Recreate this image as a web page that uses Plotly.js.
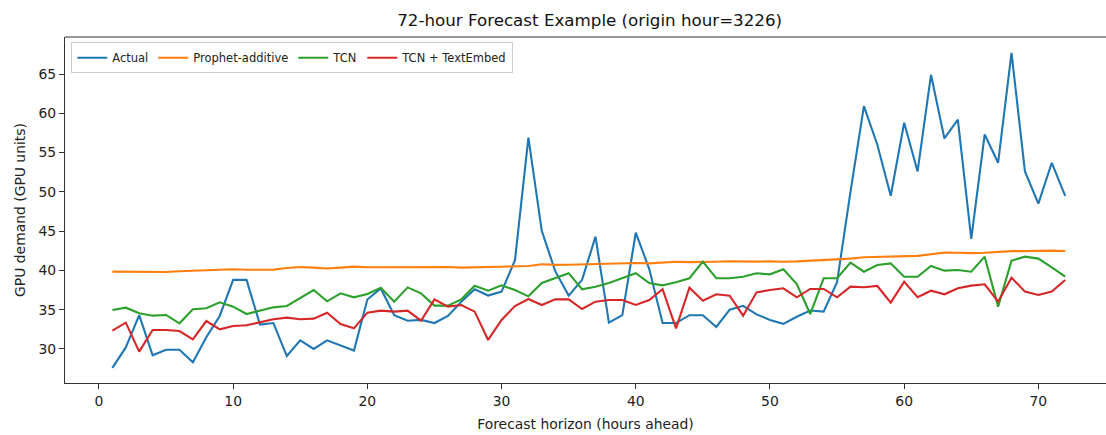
<!DOCTYPE html>
<html>
<head>
<meta charset="utf-8">
<script src="https://cdn.plot.ly/plotly-3.0.1.min.js"></script>
<style>
html,body{margin:0;padding:0;background:#fff;}
#chart{width:1106px;height:435px;}
</style>
</head>
<body>
<div id="chart"></div>
<script>
// Forecast horizon (hours ahead)
const hours = Array.from({length: 72}, (_, i) => i + 1);

const actual = [
  27.6, 30.2, 34.3, 29.2, 29.9, 29.9, 28.3, 31.5, 34.2, 38.8,
  38.8, 33.1, 33.3, 29.1, 31.1, 30.0, 31.1, 30.5, 29.8, 36.3,
  37.7, 34.3, 33.6, 33.7, 33.3, 34.2, 36.0, 37.6, 36.8, 37.3,
  41.3, 56.9, 45.0, 39.9, 36.8, 38.8, 44.3, 33.35, 34.3, 44.8,
  40.2, 33.3, 33.3, 34.3, 34.3, 32.8, 35.0, 35.5, 34.4, 33.7,
  33.2, 34.1, 34.9, 34.75, 38.5, 50.0, 60.9, 56.0, 49.5, 58.8,
  52.6, 64.9, 56.8, 59.2, 44.0, 57.3, 53.7, 67.7, 52.6, 48.5,
  53.7, 49.5
];

const prophetAdditive = [
  39.84, 39.84, 39.76, 39.78, 39.80, 39.90, 39.95, 39.97, 40.10, 40.14,
  40.08, 40.05, 40.10, 40.30, 40.43, 40.35, 40.25, 40.36, 40.48, 40.40,
  40.40, 40.46, 40.46, 40.40, 40.43, 40.43, 40.35, 40.40, 40.43, 40.48,
  40.56, 40.56, 40.78, 40.70, 40.72, 40.78, 40.75, 40.87, 40.95, 40.95,
  40.90, 41.00, 41.10, 41.05, 41.05, 41.10, 41.16, 41.10, 41.12, 41.15,
  41.10, 41.15, 41.24, 41.30, 41.40, 41.50, 41.67, 41.70, 41.70, 41.75,
  41.85, 42.05, 42.26, 42.25, 42.20, 42.25, 42.39, 42.45, 42.45, 42.50,
  42.52, 42.47
];

const tcn = [
  34.96, 35.26, 34.54, 34.24, 34.33, 33.27, 35.05, 35.18, 35.94, 35.39,
  34.45, 34.88, 35.30, 35.47, 36.50, 37.50, 36.07, 37.08, 36.58, 37.00,
  37.80, 36.02, 37.84, 37.08, 35.52, 35.52, 36.32, 38.06, 37.42, 38.10,
  37.50, 36.70, 38.40, 39.00, 39.65, 37.60, 37.93, 38.40, 39.00, 39.65,
  38.40, 38.10, 38.50, 39.00, 41.12, 39.00, 39.00, 39.20, 39.63, 39.50,
  40.14, 38.27, 34.45, 39.00, 39.00, 41.00, 39.84, 40.69, 40.90, 39.20,
  39.20, 40.56, 39.97, 40.06, 39.84, 41.75, 35.39, 41.24, 41.75, 41.50,
  40.40, 39.20
];

const tcnTextEmbed = [
  32.33, 33.35, 29.66, 32.42, 32.42, 32.29, 31.23, 33.56, 32.50, 32.93,
  33.01, 33.35, 33.78, 33.99, 33.78, 33.86, 34.62, 33.18, 32.63, 34.62,
  34.88, 34.75, 34.88, 33.60, 36.32, 35.39, 35.60, 34.75, 31.15, 33.69,
  35.47, 36.36, 35.60, 36.32, 36.32, 35.09, 36.02, 36.24, 36.24, 35.60,
  36.24, 37.60, 32.63, 37.80, 36.15, 36.96, 36.79, 34.24, 37.21, 37.50,
  37.72, 36.58, 37.64, 37.64, 36.58, 37.93, 37.85, 38.02, 35.90, 38.57,
  36.58, 37.42, 36.96, 37.72, 38.06, 38.23, 36.02, 39.08, 37.30, 36.87,
  37.30, 38.78
];

const seriesNames = ['Actual', 'Prophet-additive', 'TCN', 'TCN + TextEmbed'];
const seriesColors = ['#1f77b4', '#ff7f0e', '#2ca02c', '#d62728'];
const seriesValues = [actual, prophetAdditive, tcn, tcnTextEmbed];

const xTicks = [0, 10, 20, 30, 40, 50, 60, 70];
const yTicks = [30, 35, 40, 45, 50, 55, 60, 65];

const FONT = 'DejaVu Sans, sans-serif';

const traces = seriesValues.map((vals, k) => ({
  x: hours,
  y: vals,
  type: 'scatter',
  mode: 'lines',
  name: seriesNames[k],
  line: {color: seriesColors[k], width: 2.1}
}));

const layout = {
  width: 1106,
  height: 435,
  margin: {l: 65, r: 0, t: 37, b: 52},
  paper_bgcolor: '#ffffff',
  plot_bgcolor: '#ffffff',
  font: {family: FONT, color: '#222', size: 14},
  title: {
    text: '72-hour Forecast Example (origin hour=3226)',
    font: {family: FONT, size: 16.7, color: '#111'},
    x: 0.504, xref: 'paper', xanchor: 'center',
    y: 0.953, yref: 'container', yanchor: 'middle'
  },
  xaxis: {
    range: [-2.53, 75.04],
    tickvals: xTicks,
    ticktext: xTicks.map(String),
    ticks: 'outside', ticklen: 5, tickwidth: 1, tickcolor: '#333',
    showgrid: false, zeroline: false,
    showline: true, linecolor: '#333', linewidth: 1,
    tickfont: {family: FONT, size: 13.9, color: '#222'},
    title: {text: 'Forecast horizon (hours ahead)', font: {family: FONT, size: 13.9, color: '#222'}, standoff: 11}
  },
  yaxis: {
    range: [25.67, 69.71],
    tickvals: yTicks,
    ticktext: yTicks.map(String),
    ticks: 'outside', ticklen: 5, tickwidth: 1, tickcolor: '#333',
    showgrid: false, zeroline: false,
    showline: true, linecolor: '#333', linewidth: 1,
    tickfont: {family: FONT, size: 13.9, color: '#222'},
    title: {text: 'GPU demand (GPU units)', font: {family: FONT, size: 13.9, color: '#222'}, standoff: 9}
  },
  shapes: [
    {type: 'line', xref: 'paper', yref: 'paper', x0: 0, x1: 1, y0: 1, y1: 1,
     line: {color: '#333', width: 1}}
  ],
  showlegend: true,
  legend: {
    orientation: 'h',
    x: 0.006, y: 0.985, xanchor: 'left', yanchor: 'top',
    bgcolor: 'rgba(255,255,255,0.85)',
    bordercolor: '#cccccc', borderwidth: 1,
    font: {family: FONT, size: 11.5, color: '#222'},
    tracegroupgap: 0
  }
};

Plotly.newPlot('chart', traces, layout, {displayModeBar: false, staticPlot: true});
</script>
</body>
</html>
